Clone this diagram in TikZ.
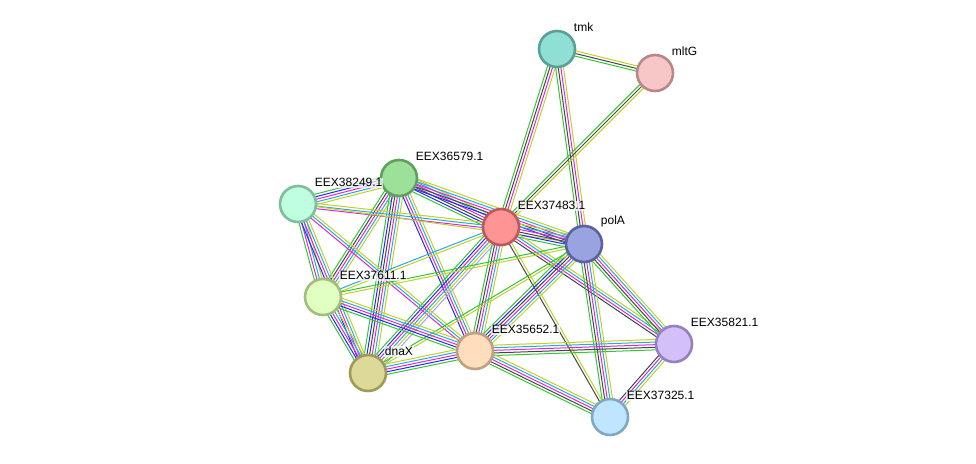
\documentclass[tikz,border=0pt]{standalone}
\usepackage{fontspec}
\setmainfont{Liberation Sans}
\usetikzlibrary{calc,backgrounds}

\definecolor{gr}{RGB}{50,200,50}
\definecolor{bl}{RGB}{40,40,240}
\definecolor{ck}{RGB}{70,70,70}
\definecolor{mg}{RGB}{220,40,220}
\definecolor{cy}{RGB}{40,170,220}
\definecolor{yl}{RGB}{190,210,40}
\definecolor{lp}{RGB}{160,160,250}

\definecolor{tmkF}{RGB}{144,223,212}\definecolor{tmkD}{RGB}{90,160,150}
\definecolor{mltF}{RGB}{247,199,199}\definecolor{mltD}{RGB}{185,135,135}
\definecolor{s579F}{RGB}{157,224,154}\definecolor{s579D}{RGB}{95,160,93}
\definecolor{s249F}{RGB}{191,255,223}\definecolor{s249D}{RGB}{125,190,155}
\definecolor{s483F}{RGB}{255,148,148}\definecolor{s483D}{RGB}{190,88,88}
\definecolor{polF}{RGB}{153,163,224}\definecolor{polD}{RGB}{88,98,160}
\definecolor{s611F}{RGB}{224,255,192}\definecolor{s611D}{RGB}{160,190,125}
\definecolor{s821F}{RGB}{211,192,248}\definecolor{s821D}{RGB}{150,128,192}
\definecolor{s652F}{RGB}{255,221,189}\definecolor{s652D}{RGB}{192,160,128}
\definecolor{dnaF}{RGB}{221,217,153}\definecolor{dnaD}{RGB}{160,154,88}
\definecolor{s325F}{RGB}{192,230,255}\definecolor{s325D}{RGB}{128,168,192}

\newcommand\plink[3]{%
  \foreach \col [count=\k] in {#3}{\xdef\nlines{\k}}%
  \foreach \col [count=\k] in {#3}{%
    \pgfmathsetmacro\off{(\k-(\nlines+1)/2)*2.6}%
    \draw[lnk,\col] ($(#1)!\off pt!90:(#2)$) -- ($(#2)!\off pt!-90:(#1)$);}}

\tikzset{
  lnk/.style={line width=1pt},
  prot/.style={circle,minimum size=36pt,inner sep=0pt,line width=2.6pt,fill=#1F,draw=#1D},
  lab/.style={fill=white,fill opacity=0.7,text opacity=1,inner sep=1pt,label distance=3pt,font=\fontsize{12}{14}\selectfont}
}

\begin{document}
\begin{tikzpicture}[x=1pt,y=-1pt]
\useasboundingbox (0,0) rectangle (976,463);
\node[prot=tmk,label={[lab]45:tmk}] (tmk) at (557,49) {};
\node[prot=mlt,label={[lab]45:mltG}] (mltG) at (655,73) {};
\node[prot=s579,label={[lab]45:EEX36579.1}] (n36579) at (399,178) {};
\node[prot=s249,label={[lab]45:EEX38249.1}] (n38249) at (298,204) {};
\node[prot=s483,label={[lab]45:EEX37483.1}] (n37483) at (501,227) {};
\node[prot=pol,label={[lab]45:polA}] (polA) at (584,244) {};
\node[prot=s611,label={[lab]45:EEX37611.1}] (n37611) at (323,297) {};
\node[prot=s821,label={[lab]45:EEX35821.1}] (n35821) at (674,344) {};
\node[prot=s652,label={[lab]45:EEX35652.1}] (n35652) at (475,351) {};
\node[prot=dna,label={[lab]45:dnaX}] (dnaX) at (368,373) {};
\node[prot=s325,label={[lab]45:EEX37325.1}] (n37325) at (610,417) {};

\begin{scope}[on background layer]
\plink{tmk}{mltG}{gr,ck,yl}
\plink{tmk}{n37483}{gr,ck,mg,yl}
\plink{tmk}{polA}{gr,ck,mg,yl}
\plink{mltG}{n37483}{gr,ck,yl}
\plink{n36579}{n38249}{gr,bl,mg,cy,yl}
\plink{n36579}{n37483}{gr,bl,ck,mg,cy,yl}
\plink{n36579}{polA}{bl,ck,mg,cy,yl}
\plink{n36579}{n37611}{gr,ck,mg,cy,yl}
\plink{n36579}{dnaX}{gr,bl,ck,mg,cy,yl}
\plink{n36579}{n35652}{bl,mg,cy,yl}
\plink{n38249}{n37483}{mg,cy,yl}
\plink{n38249}{polA}{yl}
\plink{n38249}{n37611}{gr,mg,cy,yl}
\plink{n38249}{dnaX}{bl,mg,cy,yl}
\plink{n38249}{n35652}{mg,cy,yl}
\plink{n37483}{polA}{gr,bl,ck,mg,cy,yl}
\plink{n37483}{n37611}{cy,yl}
\plink{n37483}{dnaX}{gr,bl,mg,cy,yl,lp}
\plink{n37483}{n35652}{gr,ck,mg,cy,yl}
\plink{n37483}{n35821}{ck,mg,cy,yl}
\plink{n37483}{n37325}{ck,yl}
\plink{polA}{n37611}{gr,yl}
\plink{polA}{n35652}{gr,bl,ck,mg,cy,yl}
\plink{polA}{dnaX}{gr,yl}
\plink{polA}{n35821}{gr,ck,mg,cy,yl}
\plink{polA}{n37325}{gr,ck,mg,cy,yl}
\plink{n37611}{dnaX}{gr,bl,mg,cy,yl}
\plink{n37611}{n35652}{gr,bl,mg,cy,yl}
\plink{dnaX}{n35652}{gr,bl,mg,cy,yl}
\plink{n35652}{n35821}{gr,ck,mg,cy,yl}
\plink{n35652}{n37325}{gr,ck,mg,cy,yl}
\plink{n35821}{n37325}{ck,mg,cy,yl}
\end{scope}
\end{tikzpicture}
\end{document}
